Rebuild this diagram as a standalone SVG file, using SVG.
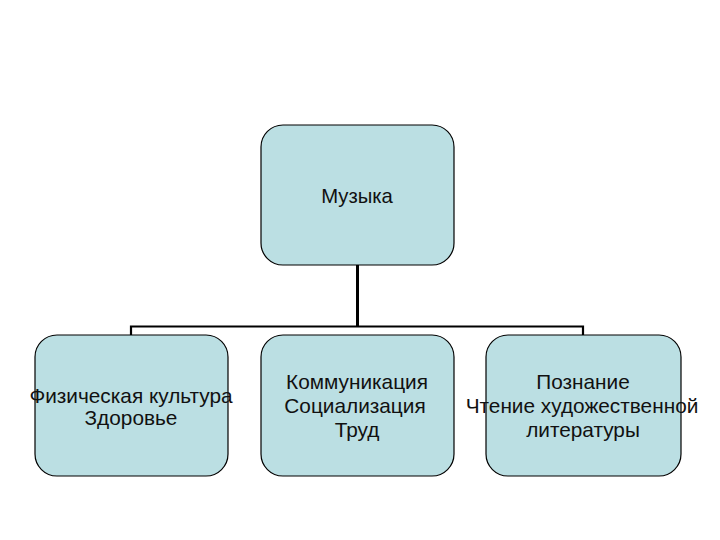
<svg xmlns="http://www.w3.org/2000/svg" width="720" height="540" viewBox="0 0 720 540">
<style>
.box{fill:#bbdfe3;stroke:#000;stroke-width:1.2}
.t{font-family:"Liberation Sans",Arial,sans-serif;font-size:20.8px;fill:#111;text-anchor:middle}
.c{fill:none;stroke:#000}
</style>
<rect width="720" height="540" fill="#fff"/>
<g id="connectors">
<path class="c" stroke-width="3" d="M357.5 265V327"/>
<path class="c" stroke-width="2.2" d="M131 335V326.5H583V335"/>
</g>
<g id="music"><rect class="box" x="261" y="125" width="193" height="140" rx="22"/><text class="t" x="357" y="203" style="font-size:20.3px">Музыка</text></g>
<g id="phys"><rect class="box" x="35" y="335" width="193" height="141" rx="22"/><text class="t" x="131" y="403">Физическая культура</text><text class="t" x="131" y="425">Здоровье</text></g>
<g id="comm"><rect class="box" x="261" y="335" width="193" height="141" rx="22"/><text class="t" x="357" y="389">Коммуникация</text><text class="t" x="355" y="413">Социализация</text><text class="t" x="357" y="437">Труд</text></g>
<g id="know"><rect class="box" x="486" y="335" width="195" height="141" rx="22"/><text class="t" x="583" y="389">Познание</text><text class="t" x="582" y="413">Чтение художественной</text><text class="t" x="583" y="437">литературы</text></g>
</svg>
